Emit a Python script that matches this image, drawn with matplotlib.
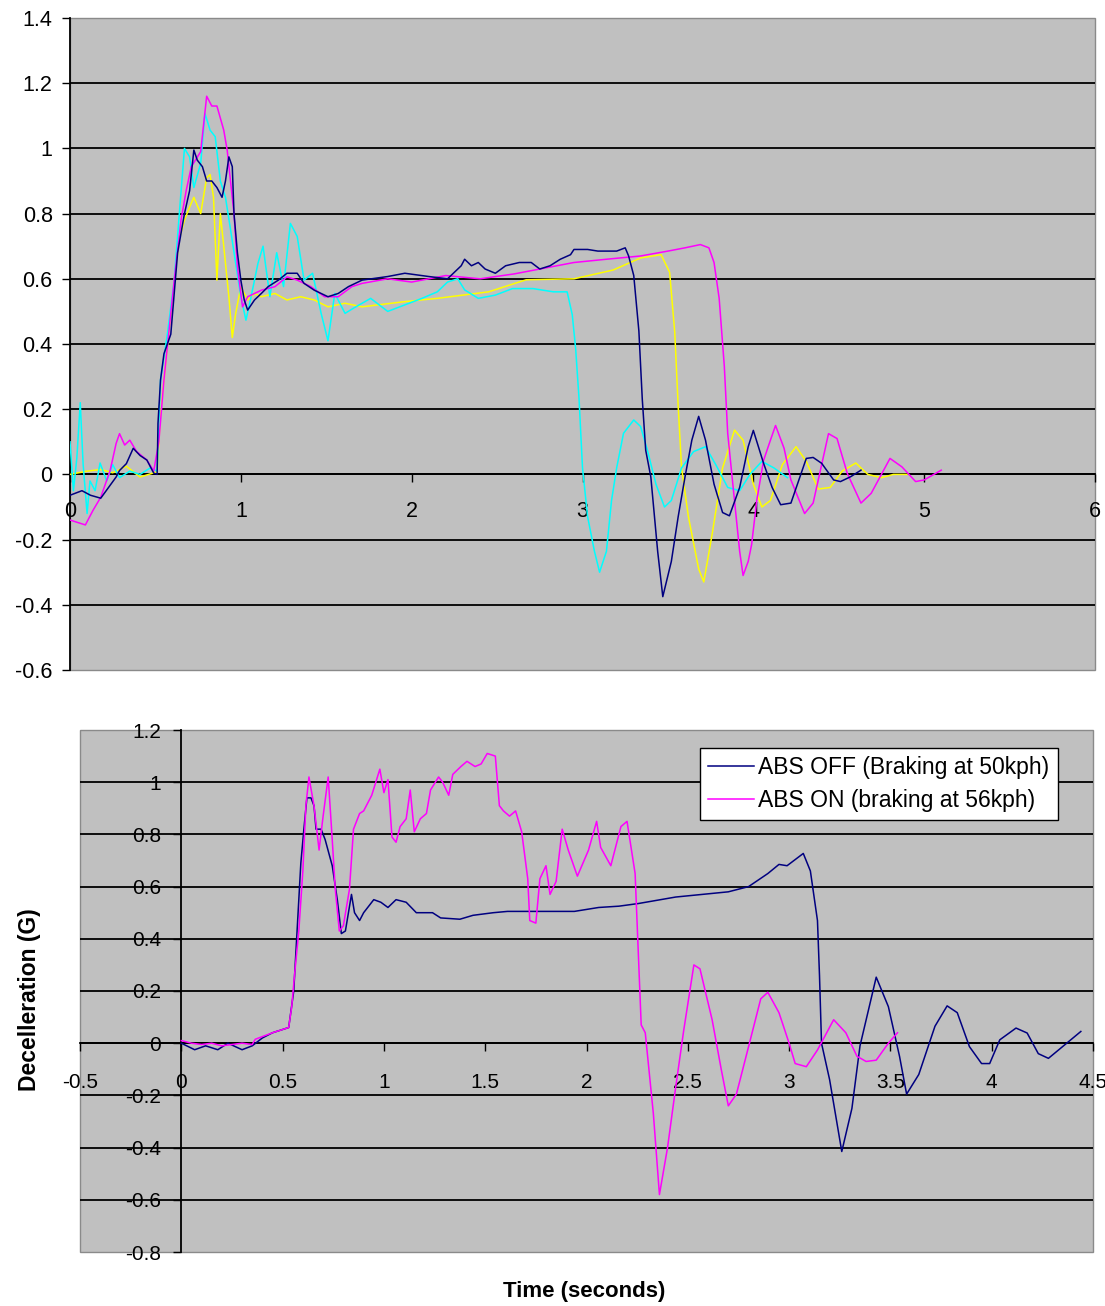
import matplotlib
matplotlib.use("Agg")
import matplotlib.pyplot as plt
from matplotlib.patches import Rectangle
from matplotlib.lines import Line2D

# ------------------------
# Values
# ------------------------

top_xticks = [0, 1, 2, 3, 4, 5, 6]
top_yticks = [-0.6, -0.4, -0.2, 0, 0.2, 0.4, 0.6, 0.8, 1.0, 1.2, 1.4]
bot_xticks = [-0.5, 0, 0.5, 1, 1.5, 2, 2.5, 3, 3.5, 4, 4.5]
bot_yticks = [-0.8, -0.6, -0.4, -0.2, 0, 0.2, 0.4, 0.6, 0.8, 1.0, 1.2]

# top chart - four runs
navy_t_x = [0, 0.07, 0.12, 0.18, 0.27, 0.29, 0.33, 0.37, 0.41, 0.45,
            0.49, 0.51, 0.515, 0.53, 0.55, 0.59, 0.63, 0.67, 0.70, 0.725,
            0.745, 0.775, 0.80, 0.83, 0.86, 0.89, 0.91, 0.93, 0.95, 0.96,
            0.98, 1.0, 1.02, 1.04, 1.08, 1.12, 1.16, 1.22, 1.27, 1.33,
            1.37, 1.43, 1.51, 1.57, 1.63, 1.71, 1.86, 1.96, 2.10, 2.21,
            2.29, 2.31, 2.35, 2.39, 2.43, 2.49, 2.55, 2.63, 2.70, 2.75,
            2.81, 2.87, 2.93, 2.95, 3.03, 3.09, 3.14, 3.20, 3.25, 3.27,
            3.30, 3.33, 3.35, 3.37, 3.40, 3.44, 3.47, 3.52, 3.56, 3.60,
            3.64, 3.68, 3.72, 3.77, 3.82, 3.86, 3.92, 3.97, 4.0, 4.06,
            4.11, 4.16, 4.22, 4.31, 4.35, 4.40, 4.47, 4.51, 4.57, 4.63]
navy_t_y = [-0.064, -0.05, -0.064, -0.073, -0.008, 0.012, 0.033, 0.08, 0.058, 0.044,
            0.004, 0.0, 0.156, 0.29, 0.37, 0.43, 0.68, 0.80, 0.87, 0.995,
            0.964, 0.944, 0.90, 0.90, 0.88, 0.85, 0.90, 0.974, 0.944, 0.80,
            0.68, 0.596, 0.535, 0.504, 0.535, 0.555, 0.576, 0.596, 0.617, 0.617,
            0.586, 0.565, 0.545, 0.555, 0.576, 0.596, 0.607, 0.617, 0.607, 0.60,
            0.64, 0.66, 0.64, 0.65, 0.63, 0.617, 0.64, 0.65, 0.65, 0.63,
            0.64, 0.66, 0.674, 0.69, 0.69, 0.685, 0.685, 0.685, 0.695, 0.67,
            0.61, 0.44, 0.23, 0.074, -0.008, -0.236, -0.375, -0.267, -0.13, -0.008,
            0.105, 0.178, 0.105, -0.03, -0.117, -0.127, -0.04, 0.085, 0.135, 0.034,
            -0.04, -0.093, -0.088, 0.049, 0.052, 0.034, -0.017, -0.022, -0.007, 0.013]

mag_t_x = [0, 0.06, 0.09, 0.135, 0.18, 0.235, 0.27, 0.29, 0.32, 0.35,
           0.39, 0.45, 0.49, 0.52, 0.55, 0.61, 0.65, 0.68, 0.71, 0.765,
           0.80, 0.83, 0.86, 0.90, 0.92, 0.96, 0.98, 1.01, 1.04, 1.12,
           1.20, 1.27, 1.33, 1.41, 1.49, 1.57, 1.65, 1.71, 1.86, 2.0,
           2.2, 2.4, 2.6, 2.75, 2.95, 3.14, 3.34, 3.50, 3.60, 3.69,
           3.74, 3.77, 3.80, 3.83, 3.85, 3.88, 3.92, 3.94, 3.97, 3.99,
           4.02, 4.06, 4.10, 4.13, 4.18, 4.22, 4.30, 4.35, 4.40, 4.44,
           4.49, 4.55, 4.63, 4.69, 4.80, 4.87, 4.95, 5.0, 5.05, 5.10]
mag_t_y = [-0.14, -0.15, -0.155, -0.11, -0.07, 0.012, 0.095, 0.125, 0.09, 0.105,
           0.07, 0.044, 0.01, 0.1, 0.29, 0.596, 0.78, 0.87, 0.944, 0.99,
           1.16, 1.13, 1.13, 1.056, 0.995, 0.80, 0.637, 0.514, 0.545, 0.565,
           0.576, 0.606, 0.596, 0.576, 0.545, 0.545, 0.576, 0.586, 0.60, 0.59,
           0.61, 0.60, 0.615, 0.63, 0.65, 0.66, 0.67, 0.685, 0.695, 0.705,
           0.695, 0.65, 0.54, 0.333, 0.126, -0.03, -0.236, -0.31, -0.267, -0.215,
           -0.08, 0.043, 0.105, 0.15, 0.08, -0.017, -0.12, -0.088, 0.03, 0.125,
           0.11, 0.003, -0.088, -0.058, 0.049, 0.023, -0.022, -0.017, -0.002, 0.013]

yel_t_x = [0, 0.1, 0.18, 0.25, 0.33, 0.41, 0.51, 0.53, 0.57, 0.61,
           0.64, 0.67, 0.70, 0.725, 0.765, 0.80, 0.82, 0.84, 0.86, 0.88,
           0.90, 0.93, 0.95, 0.97, 1.0, 1.04, 1.08, 1.12, 1.20, 1.27,
           1.35, 1.43, 1.51, 1.61, 1.71, 1.96, 2.15, 2.45, 2.67, 2.95,
           3.18, 3.34, 3.46, 3.51, 3.54, 3.56, 3.58, 3.62, 3.68, 3.71,
           3.76, 3.82, 3.89, 3.94, 4.0, 4.05, 4.1, 4.17, 4.25, 4.31,
           4.38, 4.45, 4.52, 4.6, 4.67, 4.75, 4.82, 4.9]
yel_t_y = [0.0, 0.01, 0.015, 0.005, 0.025, -0.008, 0.008, 0.187, 0.39, 0.596,
           0.72, 0.78, 0.82, 0.85, 0.80, 0.91, 0.92, 0.85, 0.596, 0.80,
           0.70, 0.545, 0.42, 0.494, 0.576, 0.535, 0.555, 0.545, 0.555, 0.535,
           0.545, 0.535, 0.514, 0.525, 0.514, 0.53, 0.54, 0.56, 0.597, 0.60,
           0.627, 0.664, 0.674, 0.62, 0.436, 0.21, 0.02, -0.13, -0.29, -0.33,
           -0.18, 0.02, 0.136, 0.105, -0.03, -0.10, -0.08, 0.03, 0.085, 0.04,
           -0.045, -0.04, 0.01, 0.035, 0.0, -0.01, 0.0, 0.0]

cyan_t_x = [0, 0.02, 0.04, 0.06, 0.077, 0.1, 0.117, 0.147, 0.176, 0.215,
            0.25, 0.29, 0.35, 0.41, 0.47, 0.51, 0.53, 0.57, 0.61, 0.64,
            0.67, 0.70, 0.725, 0.765, 0.79, 0.82, 0.85, 0.88, 0.91, 0.94,
            0.97, 1.0, 1.03, 1.06, 1.10, 1.13, 1.17, 1.21, 1.25, 1.29,
            1.33, 1.37, 1.42, 1.47, 1.51, 1.55, 1.61, 1.66, 1.76, 1.86,
            1.96, 2.06, 2.15, 2.21, 2.27, 2.31, 2.39, 2.49, 2.59, 2.71,
            2.83, 2.91, 2.94, 2.96, 2.98, 3.0, 3.03, 3.07, 3.10, 3.14,
            3.17, 3.20, 3.24, 3.30, 3.34, 3.38, 3.43, 3.48, 3.52, 3.58,
            3.65, 3.72, 3.78, 3.85, 3.92, 3.98, 4.05, 4.12, 4.2]
cyan_t_y = [0.1, -0.05, 0.05, 0.22, 0.03, -0.12, -0.02, -0.05, 0.035, -0.02,
            0.03, -0.01, 0.01, 0.0, 0.02, 0.01, 0.29, 0.43, 0.596, 0.80,
            1.0, 0.974, 0.88, 0.954, 1.107, 1.056, 1.036, 0.90, 0.85, 0.75,
            0.647, 0.545, 0.473, 0.545, 0.647, 0.70, 0.545, 0.68, 0.576, 0.77,
            0.73, 0.596, 0.617, 0.494, 0.41, 0.555, 0.494, 0.51, 0.54, 0.50,
            0.52, 0.54, 0.56, 0.59, 0.60, 0.566, 0.54, 0.55, 0.57, 0.57,
            0.56, 0.56, 0.49, 0.385, 0.23, 0.02, -0.13, -0.236, -0.30, -0.236,
            -0.08, 0.02, 0.126, 0.167, 0.147, 0.074, -0.03, -0.10, -0.08, 0.02,
            0.07, 0.085, 0.03, -0.04, -0.05, 0.0, 0.04, 0.02, -0.01]

# bottom chart - ABS off / ABS on
off_x = [0, 0.066, 0.12, 0.18, 0.23, 0.30, 0.35, 0.40, 0.45, 0.53,
         0.555, 0.59, 0.605, 0.62, 0.64, 0.655, 0.665, 0.69, 0.71, 0.745,
         0.77, 0.79, 0.81, 0.84, 0.855, 0.88, 0.90, 0.95, 0.985, 1.02,
         1.06, 1.11, 1.16, 1.24, 1.28, 1.375, 1.44, 1.54, 1.61, 1.71,
         1.81, 1.94, 2.06, 2.16, 2.255, 2.44, 2.70, 2.80, 2.895, 2.95,
         2.99, 3.07, 3.105, 3.14, 3.15, 3.16, 3.20, 3.26, 3.31, 3.35,
         3.43, 3.49, 3.545, 3.58, 3.64, 3.72, 3.78, 3.83, 3.89, 3.95,
         3.99, 4.04, 4.12, 4.175, 4.23, 4.28, 4.35, 4.44]
off_y = [0.0, -0.025, -0.01, -0.025, 0.0, -0.025, -0.01, 0.02, 0.04, 0.06,
         0.2, 0.69, 0.82, 0.94, 0.94, 0.91, 0.82, 0.82, 0.78, 0.68,
         0.55, 0.42, 0.43, 0.57, 0.50, 0.47, 0.50, 0.55, 0.54, 0.52,
         0.55, 0.54, 0.50, 0.50, 0.48, 0.475, 0.49, 0.50, 0.505, 0.505,
         0.505, 0.505, 0.52, 0.525, 0.535, 0.56, 0.58, 0.60, 0.65, 0.685,
         0.68, 0.727, 0.66, 0.47, 0.26, 0.0, -0.14, -0.415, -0.25, -0.01,
         0.253, 0.14, -0.05, -0.195, -0.12, 0.065, 0.143, 0.117, -0.013, -0.078,
         -0.078, 0.013, 0.058, 0.039, -0.04, -0.058, -0.013, 0.045]

on_x = [0, 0.05, 0.1, 0.15, 0.2, 0.25, 0.3, 0.35, 0.365, 0.45,
        0.53, 0.545, 0.56, 0.58, 0.60, 0.615, 0.63, 0.655, 0.68, 0.70,
        0.725, 0.745, 0.76, 0.78, 0.80, 0.83, 0.85, 0.88, 0.90, 0.94,
        0.96, 0.98, 1.0, 1.02, 1.04, 1.06, 1.08, 1.11, 1.13, 1.15,
        1.18, 1.21, 1.23, 1.27, 1.29, 1.32, 1.34, 1.38, 1.41, 1.45,
        1.48, 1.51, 1.55, 1.57, 1.59, 1.62, 1.65, 1.68, 1.71, 1.72,
        1.75, 1.77, 1.80, 1.82, 1.85, 1.88, 1.91, 1.955, 2.01, 2.05,
        2.07, 2.12, 2.17, 2.20, 2.24, 2.27, 2.29, 2.33, 2.36, 2.40,
        2.44, 2.48, 2.53, 2.56, 2.62, 2.665, 2.70, 2.74, 2.80, 2.86,
        2.895, 2.95, 3.0, 3.03, 3.085, 3.14, 3.22, 3.28, 3.335, 3.38,
        3.43, 3.49, 3.535]
on_y = [0.01, 0.0, -0.005, 0.0, -0.01, -0.005, 0.0, -0.005, 0.015, 0.04,
        0.06, 0.14, 0.27, 0.43, 0.66, 0.91, 1.02, 0.91, 0.74, 0.87,
        1.02, 0.78, 0.59, 0.43, 0.45, 0.59, 0.82, 0.88, 0.89, 0.95,
        1.0, 1.05, 0.96, 1.01, 0.79, 0.77, 0.83, 0.86, 0.97, 0.81,
        0.86, 0.88, 0.97, 1.02, 1.0, 0.95, 1.03, 1.06, 1.08, 1.06,
        1.07, 1.11, 1.10, 0.91, 0.89, 0.87, 0.89, 0.81, 0.63, 0.47,
        0.46, 0.63, 0.68, 0.57, 0.62, 0.82, 0.74, 0.64, 0.74, 0.85,
        0.75, 0.68, 0.83, 0.85, 0.65, 0.07, 0.04, -0.27, -0.58, -0.40,
        -0.17, 0.05, 0.30, 0.285, 0.09, -0.10, -0.24, -0.195, -0.013, 0.17,
        0.195, 0.117, 0.0, -0.078, -0.09, -0.026, 0.09, 0.04, -0.05, -0.07,
        -0.065, 0.0, 0.04]

legend_labels = ["ABS OFF (Braking at 50kph)", "ABS ON (braking at 56kph)"]

NAVY = "#000080"
MAGENTA = "#FF00FF"
YELLOW = "#FFFF00"
CYAN = "#00FFFF"
PLOT_BG = "#C0C0C0"

plt.rcParams["font.family"] = ["Liberation Sans", "DejaVu Sans"]


def fmt(v):
    return f"{round(v, 2):g}"


# ------------------------
# Shared excel-like axes styling
# ------------------------

def style_axes(ax, xticks, yticks, labelsize, xpad, ypad):
    ax.set_facecolor(PLOT_BG)
    ax.set_xlim(xticks[0], xticks[-1])
    ax.set_ylim(yticks[0], yticks[-1])
    ax.spines["left"].set_position(("data", 0))
    ax.spines["bottom"].set_position(("data", 0))
    for s in ["left", "bottom"]:
        ax.spines[s].set_linewidth(1.3)
        ax.spines[s].set_color("black")
    ax.spines["top"].set_visible(False)
    ax.spines["right"].set_visible(False)
    # grey plot area border
    ax.add_patch(Rectangle((0, 0), 1, 1, transform=ax.transAxes, fill=False,
                           edgecolor="#8a8a8a", lw=1.0, zorder=0.5, clip_on=False))
    for y in yticks[1:-1]:
        ax.axhline(y, color="black", lw=1.3, zorder=1)
    ax.set_xticks(xticks)
    ax.set_xticklabels([fmt(v) for v in xticks])
    ax.set_yticks(yticks)
    ax.set_yticklabels([fmt(v) for v in yticks])
    ax.tick_params(axis="x", direction="out", length=5.5, width=1.0,
                   pad=xpad, labelsize=labelsize)
    ax.tick_params(axis="y", direction="out", length=5.5, width=1.0,
                   pad=ypad, labelsize=labelsize)


fig = plt.figure(figsize=(11.05, 13.06), dpi=100)

# ------------------------
# Top chart
# ------------------------
ax1 = fig.add_axes([70 / 1105, 1 - 670 / 1306, 1025 / 1105, 652 / 1306])
style_axes(ax1, top_xticks, top_yticks, 15.5, 14, 7)
ax1.plot(yel_t_x, yel_t_y, color=YELLOW, lw=1.1, zorder=3)
ax1.plot(cyan_t_x, cyan_t_y, color=CYAN, lw=1.1, zorder=3)
ax1.plot(mag_t_x, mag_t_y, color=MAGENTA, lw=1.1, zorder=3)
ax1.plot(navy_t_x, navy_t_y, color=NAVY, lw=1.1, zorder=3)

# ------------------------
# Bottom chart
# ------------------------
ax2 = fig.add_axes([80 / 1105, 1 - 1252 / 1306, 1013 / 1105, 522 / 1306])
style_axes(ax2, bot_xticks, bot_yticks, 15, 16, 9)
ax2.plot(off_x, off_y, color=NAVY, lw=1.1, zorder=3)
ax2.plot(on_x, on_y, color=MAGENTA, lw=1.1, zorder=3)

handles = [Line2D([], [], color=NAVY, lw=1.1), Line2D([], [], color=MAGENTA, lw=1.1)]
leg = ax2.legend(handles, legend_labels, loc="upper right",
                 bbox_to_anchor=(0.965, 0.966), borderaxespad=0,
                 fontsize=16.5, frameon=True, fancybox=False,
                 edgecolor="black", framealpha=1, handlelength=2.0,
                 handletextpad=0.2, labelspacing=0.45, borderpad=0.35)
leg.get_frame().set_linewidth(1.0)
leg.set_zorder(5)

fig.text(30 / 1105, 1 - 1000 / 1306, "Decelleration (G)", rotation=90,
         ha="center", va="center", fontsize=16.5, fontweight="bold")
fig.text(584 / 1105, 1 - 1292 / 1306, "Time (seconds)",
         ha="center", va="center", fontsize=16, fontweight="bold")

fig.savefig("out.png", dpi=100)
